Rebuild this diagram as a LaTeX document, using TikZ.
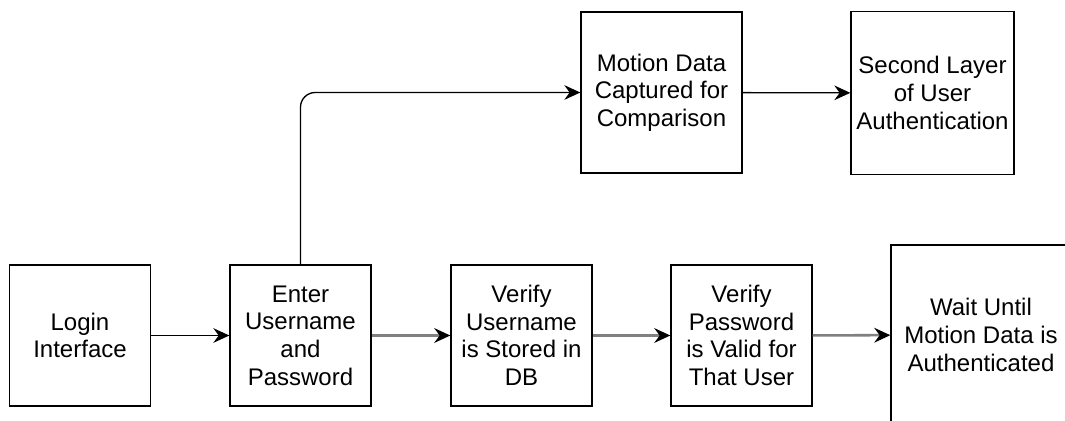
\documentclass[tikz,border=0pt]{standalone}
\usepackage{fontspec}
\setmainfont{Liberation Sans}
\usetikzlibrary{arrows.meta}

\begin{document}
\begin{tikzpicture}[x=0.75pt, y=-0.75pt, font=\fontsize{18}{20.7}\selectfont,
    box/.style={draw, line width=1pt, align=center, inner sep=0pt, minimum width=#1, minimum height=#1},
    box/.default=105.75pt,
    post/.style={-{Stealth[length=12pt, width=11pt, inset=4pt, color=black]}, line width=1pt},
    grey/.style={post, draw=black!50, line width=1.9pt}]

   \clip (0,0) rectangle (1065,421);

   \foreach \t/\x/\s in {Login/80/{Login\\Interface}, Enter/300.5/{Enter\\Username\\and\\Password},
       User/521.5/{Verify\\Username\\is Stored in\\DB}, Pass/741.5/{Verify\\Password\\is Valid for\\That User}}
     \node [box] (v\t) at (\x,335.5) {\s};

   \node [box=135pt] (vWait) at (981,335) {Wait Until\\Motion Data is\\Authenticated};
   \node [box=120.75pt] (vMotion) at (661.5,92.5) {Motion Data\\Captured for\\Comparison};
   \node [box=122.25pt] (vSecond) at (932.5,93) {Second Layer\\of User\\Authentication};

   \draw [post] (vLogin) -- (vEnter);
   \foreach \i/\j in {Enter/User, User/Pass, Pass/Wait}
     \draw [grey] (v\i) -- (v\j);
   \draw [post, rounded corners=11pt] (vEnter.north) |- (vMotion.west);
   \draw [post] (vMotion) -- (vSecond);

\end{tikzpicture}
\end{document}
